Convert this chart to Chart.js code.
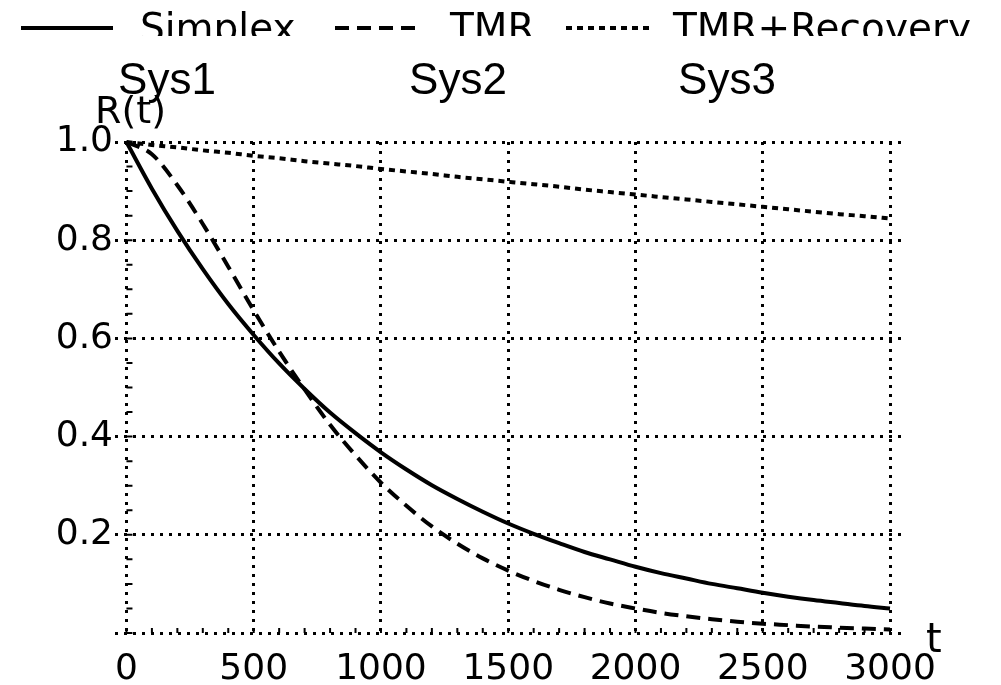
<!DOCTYPE html>
<html>
<head>
<meta charset="utf-8">
<script src="https://cdn.jsdelivr.net/npm/chart.js@4.4.1/dist/chart.umd.min.js"></script>
<style>
html, body { margin: 0; padding: 0; background: #fff; }
#wrap { width: 1001px; height: 685px; }
</style>
</head>
<body>
<div id="wrap"><canvas id="relChart"></canvas></div>
<script>
// values, every 100 time units
const tValues = [0, 100, 200, 300, 400, 500, 600, 700, 800, 900, 1000,
    1100, 1200, 1300, 1400, 1500, 1600, 1700, 1800, 1900, 2000,
    2100, 2200, 2300, 2400, 2500, 2600, 2700, 2800, 2900, 3000];
const simplexR = [1.000, 0.905, 0.819, 0.741, 0.670, 0.607, 0.549, 0.497, 0.449, 0.407, 0.368,
    0.333, 0.301, 0.273, 0.247, 0.223, 0.202, 0.183, 0.165, 0.150, 0.135,
    0.122, 0.111, 0.100, 0.091, 0.082, 0.074, 0.067, 0.061, 0.055, 0.050];
const tmrR = [1.000, 0.975, 0.912, 0.833, 0.746, 0.657, 0.573, 0.496, 0.424, 0.362, 0.306,
    0.259, 0.217, 0.182, 0.152, 0.127, 0.106, 0.088, 0.073, 0.060, 0.050,
    0.041, 0.034, 0.028, 0.023, 0.019, 0.016, 0.013, 0.011, 0.009, 0.007];
const recoveryR = [1.000, 0.994, 0.989, 0.983, 0.978, 0.972, 0.967, 0.961, 0.956, 0.951, 0.945,
    0.940, 0.935, 0.929, 0.924, 0.919, 0.914, 0.909, 0.903, 0.898, 0.893,
    0.888, 0.883, 0.878, 0.873, 0.868, 0.863, 0.858, 0.853, 0.849, 0.844];

const seriesNames = ['Simplex', 'TMR', 'TMR+Recovery'];
const systemNames = ['Sys1', 'Sys2', 'Sys3'];
const xTicks = [0, 500, 1000, 1500, 2000, 2500, 3000];
const yTicks = [0, 0.2, 0.4, 0.6, 0.8, 1.0];
const xMinor = [];
for (let t = 0; t <= 3000; t += 100) xMinor.push(t);
const yMinor = [];
for (let i = 0; i <= 20; i++) yMinor.push(i * 0.05);

function toPoints(ys) {
    return tValues.map((t, i) => ({ x: t, y: ys[i] }));
}

const tickFont = { family: 'DejaVu Sans', size: 36 };

// legend, axis names, system labels and small axis ticks
const extras = {
    id: 'extras',
    beforeDatasetsDraw(chart) {
        const ctx = chart.ctx;
        const xs = chart.scales.x, ys = chart.scales.y;
        const x0 = xs.getPixelForValue(0), y0 = ys.getPixelForValue(0);
        ctx.save();
        ctx.strokeStyle = '#000';
        ctx.lineWidth = 2;
        ctx.beginPath();
        xMinor.forEach(v => {
            const px = xs.getPixelForValue(v);
            ctx.moveTo(px, y0);
            ctx.lineTo(px, y0 - 5);
        });
        yMinor.forEach(v => {
            const py = ys.getPixelForValue(v);
            ctx.moveTo(x0, py);
            ctx.lineTo(x0 + 6, py);
        });
        ctx.stroke();
        ctx.restore();
    },
    afterDraw(chart) {
        const ctx = chart.ctx;
        ctx.save();
        ctx.fillStyle = '#000';
        ctx.strokeStyle = '#000';

        // legend
        ctx.font = '39px "DejaVu Sans"';
        ctx.textBaseline = 'alphabetic';
        const lineX = [21, 335, 566];
        const lineLen = [92, 88, 86];
        const textX = [140, 450, 673];
        chart.data.datasets.forEach((ds, i) => {
            ctx.lineWidth = ds.borderWidth;
            ctx.setLineDash(ds.borderDash || []);
            ctx.beginPath();
            ctx.moveTo(lineX[i], 28);
            ctx.lineTo(lineX[i] + lineLen[i], 28);
            ctx.stroke();
            ctx.setLineDash([]);
            ctx.fillText(ds.label, textX[i], 41);
        });

        // axis names
        ctx.font = '38px "DejaVu Sans"';
        ctx.fillText('R(t)', 95, 123);
        ctx.font = '40px "DejaVu Sans"';
        ctx.fillText('t', 926, 652);

        // white band under the legend, then system labels
        ctx.fillStyle = '#fff';
        ctx.fillRect(0, 36, chart.width, 59);
        ctx.fillStyle = '#000';
        ctx.font = '44px "Liberation Sans"';
        ctx.textAlign = 'center';
        const sysX = [167, 458, 727];
        systemNames.forEach((s, i) => ctx.fillText(s, sysX[i], 94));
        ctx.restore();
    }
};

const ctx = document.getElementById('relChart').getContext('2d');
const relChart = new Chart(ctx, {
    type: 'line',
    data: {
        datasets: [{
            label: seriesNames[0],
            data: toPoints(simplexR),
            borderColor: '#000',
            borderWidth: 4,
            borderDash: [],
            pointRadius: 0,
            cubicInterpolationMode: 'monotone',
            clip: 8
        }, {
            label: seriesNames[1],
            data: toPoints(tmrR),
            borderColor: '#000',
            borderWidth: 4,
            borderDash: [14, 8],
            pointRadius: 0,
            cubicInterpolationMode: 'monotone',
            clip: 8
        }, {
            label: seriesNames[2],
            data: toPoints(recoveryR),
            borderColor: '#000',
            borderWidth: 4,
            borderDash: [6, 5],
            pointRadius: 0,
            cubicInterpolationMode: 'monotone',
            clip: 8
        }]
    },
    options: {
        responsive: true,
        maintainAspectRatio: false,
        animation: false,
        layout: { padding: { top: 142, right: 97, left: 0, bottom: 0 } },
        plugins: {
            legend: { display: false },
            tooltip: { enabled: false }
        },
        scales: {
            x: {
                type: 'linear',
                min: -45,
                max: 3055,
                afterBuildTicks: scale => { scale.ticks = xTicks.map(v => ({ value: v })); },
                afterFit: scale => { scale.height = 52; },
                grid: { color: '#000', lineWidth: 3, drawTicks: false },
                border: { display: false, dash: [3, 6] },
                ticks: {
                    color: '#000',
                    font: tickFont,
                    padding: 15,
                    maxRotation: 0,
                    autoSkip: false,
                    callback: v => String(v)
                }
            },
            y: {
                min: 0,
                max: 1,
                afterBuildTicks: scale => { scale.ticks = yTicks.map(v => ({ value: v })); },
                afterFit: scale => { scale.width = 115; },
                grid: { color: '#000', lineWidth: 3, drawTicks: false },
                border: { display: false, dash: [3, 6] },
                ticks: {
                    color: '#000',
                    font: tickFont,
                    padding: 2,
                    autoSkip: false,
                    callback: v => (v === 0 ? '' : v.toFixed(1))
                }
            }
        }
    },
    plugins: [extras]
});
</script>
</body>
</html>
